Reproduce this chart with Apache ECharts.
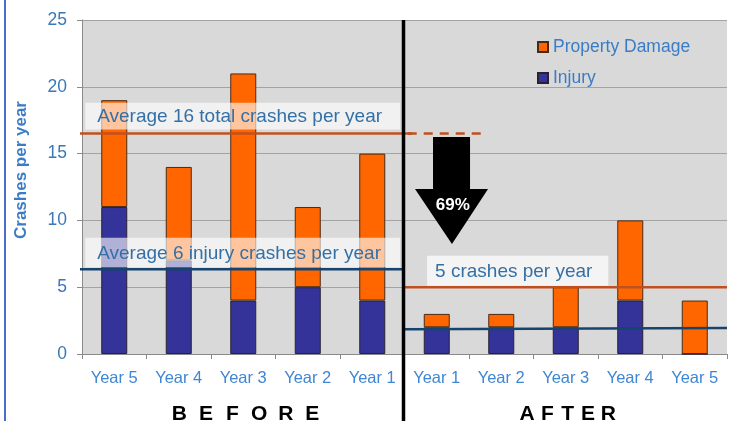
<!DOCTYPE html>
<html><head><meta charset="utf-8">
<script src="https://cdn.jsdelivr.net/npm/echarts@6/dist/echarts.min.js"></script>
<style>html,body{margin:0;padding:0;background:#fff}#c{width:732px;height:421px}</style>
</head><body><div id="c"></div>
<script>
// ---- data ----
const yearLabels = ['Year 5','Year 4','Year 3','Year 2','Year 1','Year 1','Year 2','Year 3','Year 4','Year 5'];
const injury = [11, 7, 4, 5, 4, 2, 2, 2, 4, 0];
const propertyDamage = [8, 7, 17, 6, 11, 1, 1, 3, 6, 4];
const beforeAverages = [16.5, 6.35];      // total, injury (before period)
const afterAverages = [5, 1.85, 1.95];    // total, injury line (start, end) after period
const yTicks = [0, 5, 10, 15, 20, 25];
const seriesNames = ['Property Damage', 'Injury'];
const annotationTexts = ['Average 16 total crashes per year', 'Average 6 injury crashes per year', '5 crashes per year'];
const reductionLabel = '69%';
const periodLabels = ['BEFORE', 'AFTER'];
const yAxisTitle = 'Crashes per year';

// ---- chart ----
const FONT = '"Liberation Sans", Arial, sans-serif';
const keys = yearLabels.map((l, i) => i + '|' + l);
const chart = echarts.init(document.getElementById('c'), null, {renderer: 'canvas'});

function avgLine(data, color, dashed) {
  return {
    type: 'line', xAxisIndex: 1, yAxisIndex: 0, data: data, symbol: 'none', clip: false,
    silent: true, z: 4, animation: false,
    lineStyle: {color: color, width: 2.5, type: dashed ? [9, 7] : 'solid'}
  };
}
const ORANGE_LINE = '#c0501f', NAVY_LINE = '#17436f';

const option = {
  animation: false,
  backgroundColor: '#ffffff',
  grid: {left: 82, right: 5, top: 20, bottom: 67, show: true, backgroundColor: '#d9d9d9', borderWidth: 0},
  legend: {
    orient: 'vertical', left: 532, top: 33, itemWidth: 10, itemHeight: 10, itemGap: 13, icon: 'rect',
    data: seriesNames, selectedMode: false,
    textStyle: {color: '#3a7cc6', fontSize: 17.5, fontFamily: FONT}
  },
  xAxis: [
    {
      type: 'category', data: keys, gridIndex: 0,
      axisLine: {lineStyle: {color: '#8a8a8a'}},
      axisTick: {show: true, length: 5, lineStyle: {color: '#8a8a8a'}},
      axisLabel: {formatter: v => v.split('|')[1], color: '#3f86d4', fontSize: 16.5, margin: 16, fontFamily: FONT, interval: 0},
      splitLine: {show: false}
    },
    {type: 'value', min: 0, max: 10, show: false, gridIndex: 0}
  ],
  yAxis: {
    type: 'value', min: yTicks[0], max: yTicks[yTicks.length - 1], interval: yTicks[1] - yTicks[0],
    axisLine: {show: true, lineStyle: {color: '#8a8a8a'}},
    axisTick: {show: true, length: 5, lineStyle: {color: '#8a8a8a'}},
    axisLabel: {color: '#3b78b8', fontSize: 17.5, margin: 15, fontFamily: FONT},
    splitLine: {lineStyle: {color: '#a3a3a3', width: 1}}
  },
  series: [
    {name: seriesNames[1], type: 'bar', stack: 'crashes', data: injury, barWidth: 26, z: 2,
     itemStyle: {color: '#333399', borderColor: '#2a2030', borderWidth: 1}},
    {name: seriesNames[0], type: 'bar', stack: 'crashes', data: propertyDamage, barWidth: 26, z: 2,
     itemStyle: {color: '#ff6600', borderColor: '#4a2a14', borderWidth: 1}},
    avgLine([[-0.08, beforeAverages[0]], [5.12, beforeAverages[0]]], ORANGE_LINE, false),
    avgLine([[5.05, beforeAverages[0]], [6.2, beforeAverages[0]]], ORANGE_LINE, true),
    avgLine([[-0.07, beforeAverages[1]], [5.0, beforeAverages[1]]], NAVY_LINE, false),
    avgLine([[5.0, afterAverages[0]], [10, afterAverages[0]]], ORANGE_LINE, false),
    avgLine([[5.0, afterAverages[1]], [10, afterAverages[2]]], NAVY_LINE, false),
    // text boxes (annotation)
    {
      type: 'custom', xAxisIndex: 1, yAxisIndex: 0, z: 3, silent: true, clip: false,
      data: [[0, 0]],
      renderItem: function (params, api) {
        const boxes = [
          {x0: 0.05, x1: 4.93, y0: 16.8, y1: 18.8, fill: 'rgba(255,255,255,0.62)', t: annotationTexts[0], pad: 12},
          {x0: 0.05, x1: 4.93, y0: 6.5, y1: 8.7, fill: 'rgba(255,255,255,0.62)', t: annotationTexts[1], pad: 12},
          {x0: 5.35, x1: 8.16, y0: 5.1, y1: 7.35, fill: 'rgba(246,246,246,0.95)', t: annotationTexts[2], pad: 8}
        ];
        const children = [];
        boxes.forEach(b => {
          const p0 = api.coord([b.x0, b.y1]);
          const p1 = api.coord([b.x1, b.y0]);
          children.push({type: 'rect', shape: {x: p0[0], y: p0[1], width: p1[0] - p0[0], height: p1[1] - p0[1]},
                         style: {fill: b.fill}});
          children.push({type: 'text', style: {text: b.t, x: p0[0] + b.pad, y: (p0[1] + p1[1]) / 2 + 1,
                         fill: '#3470a6', fontSize: 19, fontFamily: FONT, verticalAlign: 'middle', align: 'left'}});
        });
        return {type: 'group', children: children};
      }
    },
    // arrow, divider, period labels
    {
      type: 'custom', xAxisIndex: 1, yAxisIndex: 0, z: 6, silent: true, clip: false,
      data: [[0, 0]],
      renderItem: function (params, api) {
        const c = (x, y) => api.coord([x, y]);
        const children = [];
        const arrow = [c(5.442, 16.24), c(6.016, 16.24), c(6.016, 12.35), c(6.295, 12.35),
                       c(5.736, 8.23), c(5.163, 12.35), c(5.442, 12.35)];
        children.push({type: 'polygon', shape: {points: arrow}, style: {fill: '#000'}});
        const tp = c(5.75, 11.1);
        children.push({type: 'text', style: {text: reductionLabel, x: tp[0], y: tp[1], fill: '#fff',
                       fontSize: 17, fontWeight: 'bold', fontFamily: FONT, align: 'center', verticalAlign: 'middle'}});
        const d0 = c(5, 25), d1 = c(5, -5.2);
        children.push({type: 'line', shape: {x1: d0[0] - 1, y1: d0[1], x2: d1[0] - 1, y2: d1[1]},
                       style: {stroke: '#000', lineWidth: 3.5}});
        const periods = [{t: periodLabels[0], cx: 2.54, step: 26.6}, {t: periodLabels[1], cx: 7.53, step: 20.3}];
        periods.forEach(p => {
          const center = c(p.cx, -4.5);
          const n = p.t.length;
          for (let i = 0; i < n; i++) {
            children.push({type: 'text', style: {text: p.t[i], x: center[0] + (i - (n - 1) / 2) * p.step, y: center[1],
                           fill: '#000', fontSize: 21, fontWeight: 'bold', fontFamily: FONT,
                           align: 'center', verticalAlign: 'middle'}});
          }
        });
        return {type: 'group', children: children};
      }
    }
  ],
  graphic: [
    {type: 'line', shape: {x1: 5, y1: 0, x2: 5, y2: 421}, style: {stroke: '#4d6cc6', lineWidth: 2}},
    {type: 'text', x: 21, y: 170, rotation: Math.PI / 2,
     style: {text: yAxisTitle, fill: '#3a7cc6', fontSize: 17, fontWeight: 'bold', fontFamily: FONT,
             align: 'center', verticalAlign: 'middle'}}
  ]
};
chart.setOption(option);
</script>
</body></html>
